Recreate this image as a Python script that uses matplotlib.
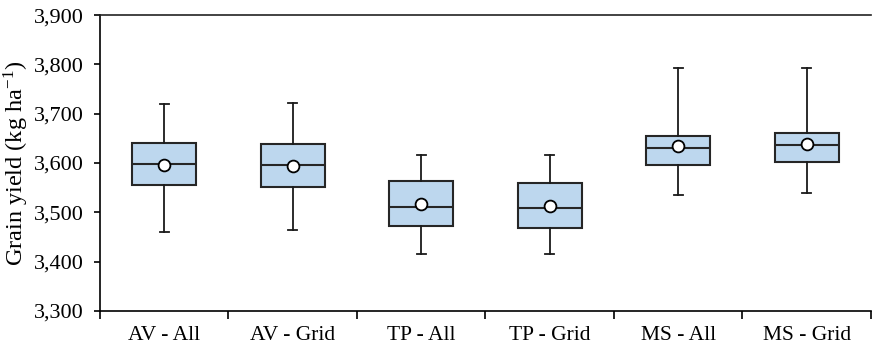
import matplotlib
matplotlib.use("Agg")
import matplotlib.pyplot as plt
from matplotlib.ticker import FuncFormatter

# Box summary values (kg/ha)
categories = ["AV - All", "AV - Grid", "TP - All", "TP - Grid", "MS - All", "MS - Grid"]
whisker_low = [3461, 3465, 3415, 3415, 3535, 3539]
q1 = [3555, 3551, 3472, 3468, 3597, 3603]
median = [3598, 3597, 3511, 3508, 3630, 3636]
q3 = [3641, 3639, 3563, 3559, 3654, 3661]
whisker_high = [3719, 3721, 3616, 3616, 3793, 3793]
means = [3597, 3595, 3517, 3513, 3634, 3638]

plt.rcParams['font.family'] = ['Liberation Serif', 'DejaVu Serif']
plt.rcParams['mathtext.fontset'] = 'stix'

fig = plt.figure(figsize=(8.72, 3.51), dpi=100)
ax = fig.add_axes([0.1147, 0.114, 0.884, 0.843])

stats = []
for i, name in enumerate(categories):
    stats.append({
        'label': name,
        'whislo': whisker_low[i],
        'q1': q1[i],
        'med': median[i],
        'q3': q3[i],
        'whishi': whisker_high[i],
        'mean': means[i],
        'fliers': [],
    })

positions = list(range(1, len(categories) + 1))
ax.bxp(stats, positions=positions, widths=0.5, patch_artist=True, showmeans=True,
       boxprops=dict(facecolor='#BDD7EE', edgecolor='#262626', linewidth=1.5),
       medianprops=dict(color='#262626', linewidth=1.5),
       whiskerprops=dict(color='#1a1a1a', linewidth=1.3),
       capprops=dict(color='#1a1a1a', linewidth=1.3),
       capwidths=0.07,
       meanprops=dict(marker='o', markerfacecolor='white', markeredgecolor='black',
                      markeredgewidth=1.3, markersize=8.5))

ax.set_xlim(0.5, len(categories) + 0.5)
ax.set_ylim(3300, 3900)
ax.set_yticks(range(3300, 3901, 100))
ax.yaxis.set_major_formatter(FuncFormatter(lambda v, p: f"{int(v):,}"))

# category ticks between boxes, labels centred
ax.set_xticks([p - 0.5 for p in positions] + [len(categories) + 0.5])
ax.set_xticklabels([])
ax.set_xticks(positions, minor=True)
ax.set_xticklabels(categories, minor=True)
ax.tick_params(axis='x', which='major', direction='out', length=6, width=1.2)
ax.tick_params(axis='x', which='minor', length=0, pad=11, labelsize=15.5)
ax.tick_params(axis='y', direction='out', length=4, width=1.2, labelsize=16, pad=8)

ax.set_ylabel(r"Grain yield (kg ha$^{\mathregular{-1}}$)", fontsize=17.5, labelpad=2)

ax.spines['right'].set_visible(False)
for s in ['left', 'bottom', 'top']:
    ax.spines[s].set_linewidth(1.2)
ax.spines['top'].set_color('#222222')

fig.savefig("out.png", dpi=100)
